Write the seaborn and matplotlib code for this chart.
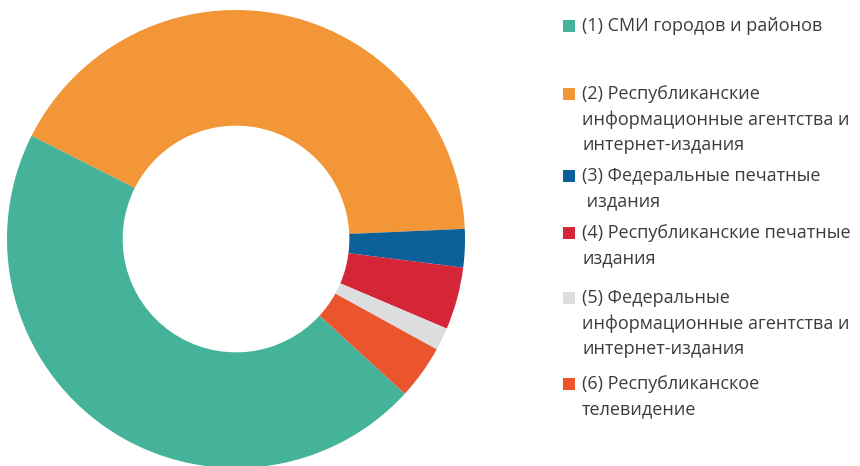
import matplotlib.pyplot as plt
import seaborn as sns
from matplotlib.patches import Rectangle

labels = [
    "(1) СМИ городов и районов",
    "(2) Республиканские\nинформационные агентства и\nинтернет-издания",
    "(3) Федеральные печатные\n издания",
    "(4) Республиканские печатные\nиздания",
    "(5) Федеральные\nинформационные агентства и\nинтернет-издания",
    "(6) Республиканское\nтелевидение",
]
shares = [45.6, 41.8, 2.7, 4.4, 1.6, 3.8]
colors = ["#45b39a", "#f29637", "#0a619a", "#d42637", "#dcdddf", "#ea552e"]

sns.set_style("white")
plt.rcParams['font.family'] = ['Open Sans', 'DejaVu Sans']

fig = plt.figure(figsize=(8.6, 4.66), dpi=100)
W, H = 860, 466

# donut: centre ~ (236, 239) px, outer radius ~229 px
cx, cy, R = 236, 239, 229
ax = fig.add_axes([(cx - R) / W, (H - cy - R) / H, 2 * R / W, 2 * R / H])
pal = sns.color_palette(colors)
ax.pie(shares, colors=pal, startangle=-42.5, counterclock=False,
       radius=1.0, wedgeprops=dict(width=0.505, edgecolor='none'))
ax.set_xlim(-1, 1)
ax.set_ylim(-1, 1)
ax.set_aspect('equal')
ax.axis('off')

# legend, placed by hand to follow the irregular spacing
first_line_y = [25, 93, 175, 232, 297, 383]
for lab, col, y in zip(labels, colors, first_line_y):
    fig.patches.append(Rectangle((563 / W, (H - y - 6.5) / H), 12 / W, 12 / H,
                                 transform=fig.transFigure, facecolor=col,
                                 edgecolor='none'))
    fig.text(582 / W, (H - y + 8) / H, lab, ha='left', va='top',
             fontsize=13, color='#3c3c3c', linespacing=1.5)

fig.savefig("out.png", dpi=100)
